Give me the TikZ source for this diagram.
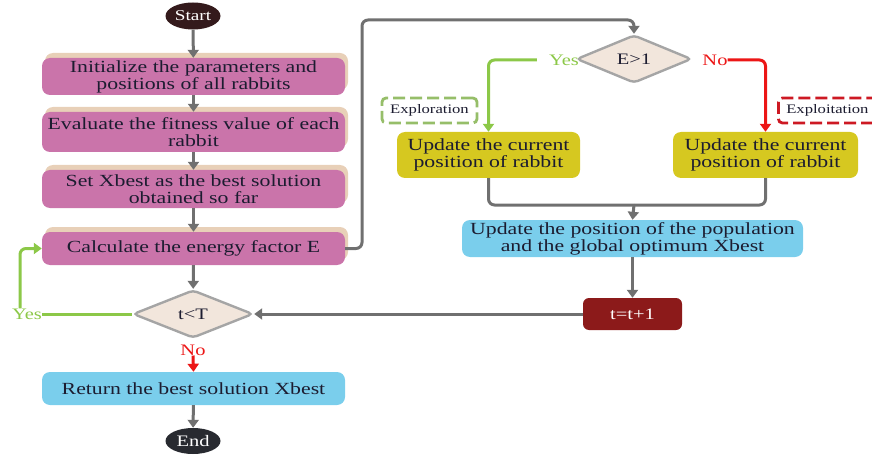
\documentclass[tikz,border=0pt]{standalone}
\usepackage{fontspec}
\setmainfont[FakeStretch=1.28]{Liberation Serif}
\usetikzlibrary{shapes.geometric,shadows,arrows.meta}
\definecolor{pinkbox}{RGB}{202,116,170}
\definecolor{tanshadow}{RGB}{232,208,184}
\definecolor{lblue}{RGB}{122,206,236}
\definecolor{ybox}{RGB}{214,200,32}
\definecolor{dfill}{RGB}{242,230,220}
\definecolor{dborder}{RGB}{165,165,165}
\definecolor{garrow}{RGB}{112,112,112}
\definecolor{ggreen}{RGB}{140,200,72}
\definecolor{tgreen}{RGB}{150,190,105}
\definecolor{rred}{RGB}{236,22,22}
\definecolor{tred}{RGB}{205,25,35}
\definecolor{dred}{RGB}{140,26,26}
\definecolor{txt}{RGB}{28,28,48}
\definecolor{startc}{RGB}{52,26,28}
\definecolor{endc}{RGB}{40,42,48}
\tikzset{
  base/.style={inner sep=0pt, align=center, text=txt, font=\fontsize{17}{17}\selectfont},
  pinkbox/.style={base, rectangle, rounded corners=8pt, fill=pinkbox, minimum width=303pt,
    copy shadow={shadow xshift=3pt, shadow yshift=5pt, fill=tanshadow, draw=none}},
  bluebox/.style={base, rectangle, rounded corners=8pt, fill=lblue},
  yelbox/.style={base, rectangle, rounded corners=8pt, fill=ybox},
  term/.style={ellipse, inner sep=0pt, text=white, font=\fontsize{15}{15}\selectfont},
  decis/.style={diamond, draw=dborder, line width=2.4pt, fill=dfill, inner sep=0pt, rounded corners=4pt,
    text=txt, font=\fontsize{16}{16}\selectfont},
  garr/.style={draw=garrow, line width=3pt, -{Triangle[length=8pt,width=11pt]}},
  gline/.style={draw=garrow, line width=3pt},
  grnarr/.style={draw=ggreen, line width=3pt, -{Triangle[length=8pt,width=11pt]}},
  redarr/.style={draw=rred, line width=3pt, -{Triangle[length=8pt,width=11pt]}},
  lbl/.style={inner sep=0pt, font=\fontsize{16}{16}\selectfont},
  tagbox/.style={rectangle, rounded corners=4pt, fill=white, dash pattern=on 12pt off 5pt,
    line width=2.8pt, inner sep=0pt, text=txt, font=\fontsize{13}{13}\selectfont}
}
\begin{document}
\begin{tikzpicture}[x=1pt,y=-1pt]
\useasboundingbox (0,0) rectangle (872,457);
% left column
\node[term, fill=startc, minimum width=55pt, minimum height=27pt] (start) at (193,16) {Start};
\node[pinkbox, minimum height=37pt] (b1) at (193.5,76.5) {Initialize the parameters and\\positions of all rabbits};
\node[pinkbox, minimum height=40pt] (b2) at (193.5,132) {Evaluate the fitness value of each\\rabbit};
\node[pinkbox, minimum height=38pt] (b3) at (193.5,189) {Set Xbest as the best solution\\obtained so far};
\node[pinkbox, minimum height=33pt] (b4) at (193.5,248.5) {Calculate the energy factor E};
\node[decis, minimum width=120pt, minimum height=48pt, aspect=2.5] (tlt) at (193,314) {t<T};
\node[bluebox, minimum width=303pt, minimum height=33pt] (ret) at (193.5,388.5) {Return the best solution Xbest};
\node[term, fill=endc, minimum width=55pt, minimum height=26pt, font=\fontsize{16}{16}\selectfont] (end) at (193,441) {End};
\node[lbl, text=ggreen] (yes1) at (27,314) {Yes};
\node[lbl, text=rred] (no1) at (193,350) {No};

\draw[garr] (start) -- (b1);
\draw[garr] (b1) -- (b2);
\draw[garr] (b2) -- (b3);
\draw[garr] (b3) -- (b4);
\draw[garr] (b4) -- (tlt);
\draw[garr] (ret) -- (end);
\draw[draw=ggreen, line width=3pt] (tlt.west) -- (yes1.east);
\draw[grnarr, rounded corners=6pt] ([xshift=-7pt]yes1.north) |- (b4.west);
\draw[redarr] (no1.south) -- (ret.north);

% right part
\coordinate (c1) at (362,20);
\node[lbl, text=ggreen] (yes2) at (564,60) {Yes};
\node[lbl, text=rred] (no2) at (715,60) {No};
\node[decis, minimum width=115pt, minimum height=48pt, aspect=2.4] (e1) at (634,59) {E>1};
\draw[garr, rounded corners=6pt] (b4.east) -| (c1) -| (e1.north);
\node[yelbox, minimum width=183pt, minimum height=46pt] (y1) at (488.5,155) {Update the current\\position of rabbit};
\node[yelbox, minimum width=185pt, minimum height=46pt] (y2) at (765.5,155) {Update the current\\position of rabbit};
\node[tagbox, draw=tgreen, minimum width=95pt, minimum height=25pt] (expl) at (429.5,110.5) {Exploration};
\node[tagbox, draw=tred, minimum width=104pt, minimum height=25pt, anchor=west] (expt) at (777,110.5) {\hspace*{-6pt}Exploitation};
\draw[grnarr, rounded corners=6pt] ([xshift=-12pt]yes2.west) -| (y1.north);
\draw[redarr, rounded corners=6pt] (no2.east) -| (y2.north);

\node[bluebox, minimum width=341pt, minimum height=37pt] (bb) at (632.5,238.5) {Update the position of the population\\and the global optimum Xbest};
\coordinate (m) at (634,205);
\draw[gline, rounded corners=6pt] (y1.south) |- (m);
\draw[gline, rounded corners=6pt] (y2.south) |- (m);
\draw[garr] (m) -- (bb.north);
\node[base, rectangle, rounded corners=6pt, fill=dred, text=white, minimum width=99pt, minimum height=32pt, font=\fontsize{16}{16}\selectfont] (tt) at (632.5,314) {t=t+1};
\draw[garr] (bb.south) -- (tt.north);
\draw[garr] (tt.west) -- (tlt.east);
\end{tikzpicture}
\end{document}
